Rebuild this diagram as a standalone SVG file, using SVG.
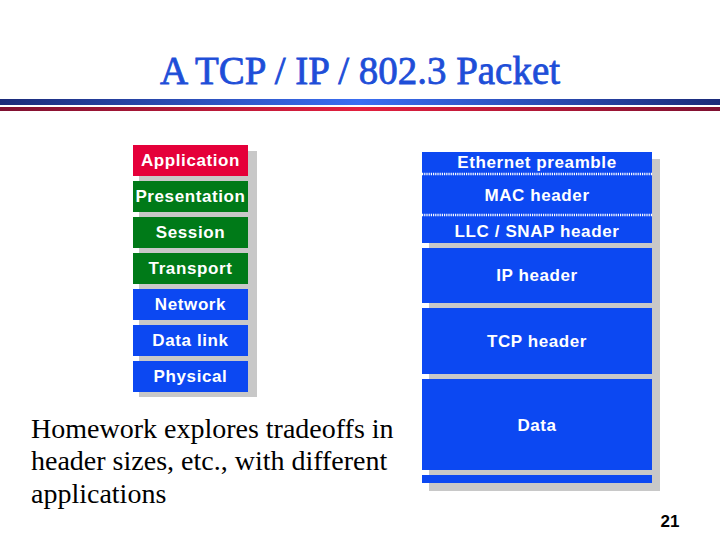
<svg xmlns="http://www.w3.org/2000/svg" width="720" height="540" viewBox="0 0 720 540">
<defs>
<linearGradient id="gBlue" x1="0" y1="0" x2="1" y2="0">
<stop offset="0" stop-color="#1B2A78"/><stop offset="0.5" stop-color="#3A6EF2"/><stop offset="1" stop-color="#1B2A78"/>
</linearGradient>
<linearGradient id="gRed" x1="0" y1="0" x2="1" y2="0">
<stop offset="0" stop-color="#7E1030"/><stop offset="0.5" stop-color="#E3203E"/><stop offset="1" stop-color="#7E1030"/>
</linearGradient>
<style>
.lbl{font-family:"Liberation Sans",Arial,sans-serif;font-size:17px;font-weight:bold;fill:#ffffff;text-anchor:middle;letter-spacing:0.6px}
.red{fill:#E5003A}.grn{fill:#007A18}.blu{fill:#0C48F2}
.shadow{fill:#C8C8C8}
.dots{stroke:#ffffff;stroke-width:2.5;stroke-dasharray:1.2 1;fill:none}
.body{font-family:"Liberation Serif","Times New Roman",serif;font-size:28px;fill:#000000}
</style>
</defs>
<rect width="720" height="540" fill="#ffffff"/>
<text x="360" y="84" font-family="'Liberation Serif','Times New Roman',serif" font-size="40" fill="#1E4ED8" stroke="#1E4ED8" stroke-width="0.8" text-anchor="middle" textLength="400" lengthAdjust="spacingAndGlyphs">A TCP / IP / 802.3 Packet</text>
<rect x="0" y="99" width="720" height="6" fill="url(#gBlue)"/>
<rect x="0" y="107" width="720" height="4" fill="url(#gRed)"/>

<g id="osi-stack">
<rect class="shadow" x="139" y="151" width="118" height="246"/>
<g id="application"><rect class="red" x="133" y="145" width="115" height="31"/><text class="lbl" x="190.5" y="166">Application</text></g>
<g id="presentation"><rect class="grn" x="133" y="181" width="115" height="31"/><text class="lbl" x="190.5" y="202" letter-spacing="0.2">Presentation</text></g>
<g id="session"><rect class="grn" x="133" y="217" width="115" height="31"/><text class="lbl" x="190.5" y="238">Session</text></g>
<g id="transport"><rect class="grn" x="133" y="253" width="115" height="31"/><text class="lbl" x="190.5" y="274">Transport</text></g>
<g id="network"><rect class="blu" x="133" y="289" width="115" height="31"/><text class="lbl" x="190.5" y="310">Network</text></g>
<g id="datalink"><rect class="blu" x="133" y="325" width="115" height="31"/><text class="lbl" x="190.5" y="346">Data link</text></g>
<g id="physical"><rect class="blu" x="133" y="361" width="115" height="31"/><text class="lbl" x="190.5" y="382">Physical</text></g>
</g>

<g id="packet">
<rect class="shadow" x="429" y="159" width="231" height="332"/>
<g id="eth-preamble"><rect class="blu" x="422" y="152" width="230" height="22"/><text class="lbl" x="537" y="168">Ethernet preamble</text></g>
<g id="mac-header"><rect class="blu" x="422" y="174" width="230" height="41"/><text class="lbl" x="537" y="201">MAC header</text></g>
<g id="llc-snap"><rect class="blu" x="422" y="215" width="230" height="28"/><text class="lbl" x="537" y="237">LLC / SNAP header</text></g>
<g id="ip-header"><rect class="blu" x="422" y="248" width="230" height="55"/><text class="lbl" x="537" y="281">IP header</text></g>
<g id="tcp-header"><rect class="blu" x="422" y="308" width="230" height="66"/><text class="lbl" x="537" y="347">TCP header</text></g>
<g id="data"><rect class="blu" x="422" y="379" width="230" height="91"/><text class="lbl" x="537" y="431">Data</text></g>
<g id="trailer"><rect class="blu" x="422" y="475" width="230" height="8"/></g>
</g>

<g id="connectors">
<line class="dots" x1="422" y1="174" x2="652" y2="174"/>
<line class="dots" x1="422" y1="215" x2="652" y2="215"/>
</g>

<text class="body" x="31" y="438">Homework explores tradeoffs in</text>
<text class="body" x="31" y="470">header sizes, etc., with different</text>
<text class="body" x="31" y="503">applications</text>
<text x="670" y="527" font-family="'Liberation Sans',Arial,sans-serif" font-size="17" font-weight="bold" fill="#000000" text-anchor="middle">21</text>
</svg>
